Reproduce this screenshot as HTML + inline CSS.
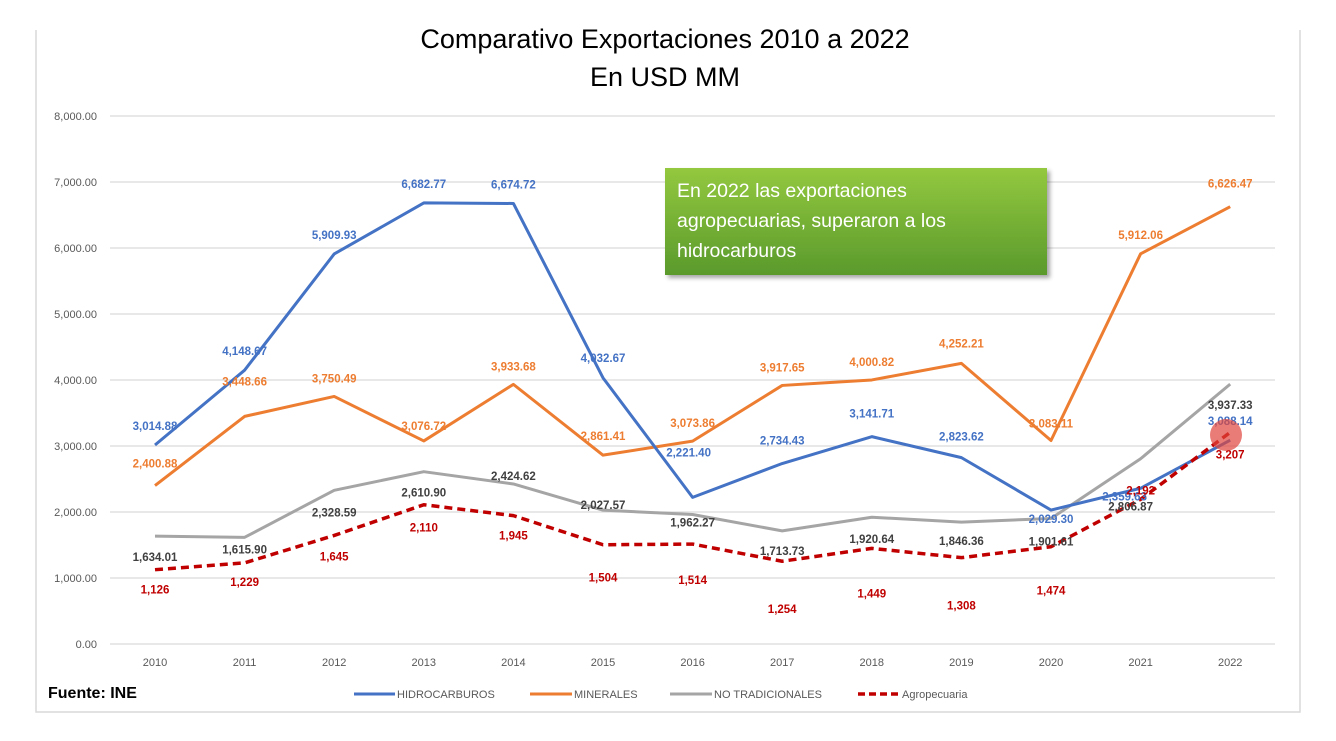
<!DOCTYPE html>
<html><head><meta charset="utf-8"><style>
body{margin:0;background:#fff;width:1336px;height:736px;overflow:hidden;font-family:"Liberation Sans",sans-serif}
</style></head><body>
<svg width="1336" height="736" viewBox="0 0 1336 736" xmlns="http://www.w3.org/2000/svg">
<defs>
<linearGradient id="gb" x1="0" y1="0" x2="0" y2="1"><stop offset="0" stop-color="#93c83f"/><stop offset="1" stop-color="#5a9a2c"/></linearGradient>
<filter id="sh"><feDropShadow dx="3" dy="3" stdDeviation="2" flood-color="#000" flood-opacity="0.35"/></filter>
</defs>
<rect x="0" y="0" width="1336" height="736" fill="#fff"/>
<path d="M36 30 V712 H1300 V30" fill="none" stroke="#d9d9d9" stroke-width="1.5"/>
<text x="665" y="48" text-anchor="middle" font-size="27" fill="#000">Comparativo Exportaciones 2010 a 2022</text>
<text x="665" y="86" text-anchor="middle" font-size="27" fill="#000">En USD MM</text>
<g id="grid"></g><g id="xt"></g><g id="lines"></g><g id="labels"></g>
<circle cx="1226" cy="435" r="16" fill="#e0443c" opacity="0.7"/>
<g>
<rect x="665" y="168" width="382" height="107" fill="url(#gb)" filter="url(#sh)"/>
<text x="677" y="197" font-size="19.5" fill="#fff">En 2022 las exportaciones</text>
<text x="677" y="227" font-size="19.5" fill="#fff">agropecuarias, superaron a los</text>
<text x="677" y="257" font-size="19.5" fill="#fff">hidrocarburos</text>
</g>
<text x="48" y="698" font-size="16" font-weight="bold" fill="#000">Fuente: INE</text>
<g font-size="11" fill="#595959">
<g><line x1="354" y1="694" x2="395" y2="694" stroke="#4472c4" stroke-width="3"/><text x="397" y="698">HIDROCARBUROS</text></g>
<g><line x1="530" y1="694" x2="572" y2="694" stroke="#ed7d31" stroke-width="3"/><text x="574" y="698">MINERALES</text></g>
<g><line x1="670" y1="694" x2="712" y2="694" stroke="#a5a5a5" stroke-width="3"/><text x="714" y="698">NO TRADICIONALES</text></g>
<g><line x1="858" y1="694" x2="900" y2="694" stroke="#c00000" stroke-width="3.5" stroke-dasharray="7,4"/><text x="902" y="698">Agropecuaria</text></g>
</g>
</svg>
<script>
const years=["2010","2011","2012","2013","2014","2015","2016","2017","2018","2019","2020","2021","2022"];
const yTicks=[0,1000,2000,3000,4000,5000,6000,7000,8000];
const hidro=[3014.88,4148.67,5909.93,6682.77,6674.72,4032.67,2221.40,2734.43,3141.71,2823.62,2029.30,2359.63,3088.14];
const minerales=[2400.88,3448.66,3750.49,3076.72,3933.68,2861.41,3073.86,3917.65,4000.82,4252.21,3083.11,5912.06,6626.47];
const noTrad=[1634.01,1615.90,2328.59,2610.90,2424.62,2027.57,1962.27,1713.73,1920.64,1846.36,1901.61,2806.87,3937.33];
const agro=[1126,1229,1645,2110,1945,1504,1514,1254,1449,1308,1474,2192,3207];
const hidroDy=[-19,-19,-19,-19,-19,-20,-45,-23,-23,-21,9,8,-19];
const hidroDx=[0,0,0,0,0,0,-4,0,0,0,0,-16,0];
const minDy=[-22,-35,-18,-15,-18,-19,-18,-18,-18,-20,-17,-19,-23];
const ntDy=[21,12,22,21,-8,-5,8,20,22,19,23,48,21];
const ntDx=[0,0,0,0,0,0,0,0,0,0,0,-10,0];
const agDy=[20,19,21,23,20,33,36,48,45,48,44,-9,22];
const zero=[0,0,0,0,0,0,0,0,0,0,0,0,0];
const NS="http://www.w3.org/2000/svg";
const X=i=>155+i*89.6, Y=v=>644-v*0.066;
function mk(t,a,p){const e=document.createElementNS(NS,t);for(const k in a)e.setAttribute(k,a[k]);p.appendChild(e);return e;}
const grid=document.getElementById('grid');
yTicks.forEach(v=>{
  const l=mk('line',{x1:110,x2:1275,y1:Y(v),y2:Y(v),stroke:'#d9d9d9','stroke-width':1.3},grid);
  
  
  const t=mk('text',{x:97,y:Y(v)+4,'text-anchor':'end','font-size':11,fill:'#595959'},grid);
  t.textContent=v.toLocaleString('en-US',{minimumFractionDigits:2});
  
  
});
const xt=document.getElementById('xt');
years.forEach((y,i)=>{
  const t=mk('text',{x:X(i),y:666,'text-anchor':'middle','font-size':11,fill:'#595959'},xt);
  t.textContent=y;
  
  
});
const lines=document.getElementById('lines'),labels=document.getElementById('labels');
function series(vals,color,name,dash,dys,dxs,fmt,lc,w){
  const p=mk('polyline',{points:vals.map((v,i)=>X(i)+','+Y(v)).join(' '),fill:'none',stroke:color,'stroke-width':w,'stroke-linejoin':'round'},lines);
  if(dash)p.setAttribute('stroke-dasharray',dash);
  
  
  vals.forEach((v,i)=>{
    const t=mk('text',{x:X(i)+dxs[i],y:Y(v)+dys[i]+4,'text-anchor':'middle','font-size':11.5,'font-weight':'bold',fill:lc},labels);
    t.textContent=fmt(v);
    
    
  });
}
const f2=v=>v.toLocaleString('en-US',{minimumFractionDigits:2,maximumFractionDigits:2});
const f0=v=>v.toLocaleString('en-US');
series(noTrad,'#a5a5a5','no-tradicionales',null,ntDy,ntDx,f2,'#404040',3);
series(minerales,'#ed7d31','minerales',null,minDy,zero,f2,'#ed7d31',3);
series(hidro,'#4472c4','hidrocarburos',null,hidroDy,hidroDx,f2,'#4472c4',3);
series(agro,'#c00000','agropecuaria','8,5',agDy,zero,f0,'#c00000',3.5);
</script>
</body></html>
